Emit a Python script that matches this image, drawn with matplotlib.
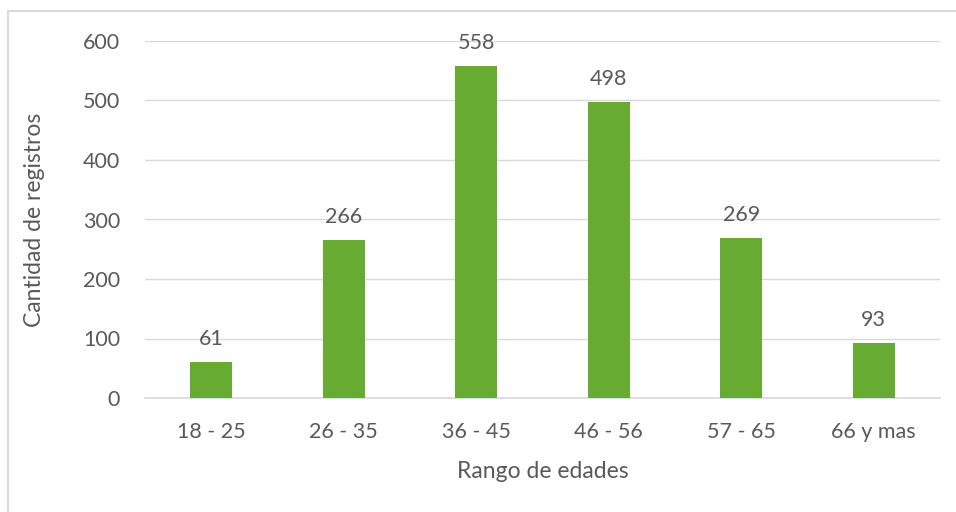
import matplotlib
matplotlib.use("Agg")
import matplotlib.pyplot as plt
from matplotlib.patches import Rectangle

categories = ["18 - 25", "26 - 35", "36 - 45", "46 - 56", "57 - 65", "66 y mas"]
values = [61, 266, 558, 498, 269, 93]
yticks = [0, 100, 200, 300, 400, 500, 600]

plt.rcParams['font.family'] = ['Lato', 'DejaVu Sans']
txt = '#595959'
grid = '#d9d9d9'
green = '#67ab32'
fs = 15.5

fig = plt.figure(figsize=(9.56, 5.12), dpi=100)
fig.patches.append(Rectangle((8/956, -0.1), 1.2, (512-11)/512 + 0.1, transform=fig.transFigure,
                             fill=False, edgecolor=grid, linewidth=1.5))

ax = fig.add_axes([145/956, 1-398/512, (940-145)/956, (398-41)/512])
x = list(range(len(categories)))
ax.bar(x, values, width=0.32, color=green, zorder=3)
for xi, v in zip(x, values):
    ax.text(xi, v + 22, str(v), ha='center', va='bottom', fontsize=fs, color=txt)

ax.set_xlim(-0.5, len(categories) - 0.5)
ax.set_ylim(0, 600)
ax.set_yticks(yticks)
ax.set_yticklabels([str(t) for t in yticks], fontsize=fs, color=txt)
ax.set_xticks(x)
ax.set_xticklabels(categories, fontsize=fs, color=txt)
ax.tick_params(axis='both', length=0)
ax.tick_params(axis='y', pad=18)
ax.tick_params(axis='x', pad=17)
ax.yaxis.grid(True, color=grid, linewidth=1)
ax.set_axisbelow(True)
for s in ['top', 'right', 'left']:
    ax.spines[s].set_visible(False)
ax.spines['bottom'].set_color(grid)
ax.spines['bottom'].set_linewidth(1.2)
ax.set_xlabel("Rango de edades", fontsize=16.5, color=txt, labelpad=14)
ax.set_ylabel("Cantidad de registros", fontsize=16.5, color=txt)
ax.yaxis.set_label_coords(-(145-45)/795, 0.5)

fig.savefig("out.png", dpi=100)
